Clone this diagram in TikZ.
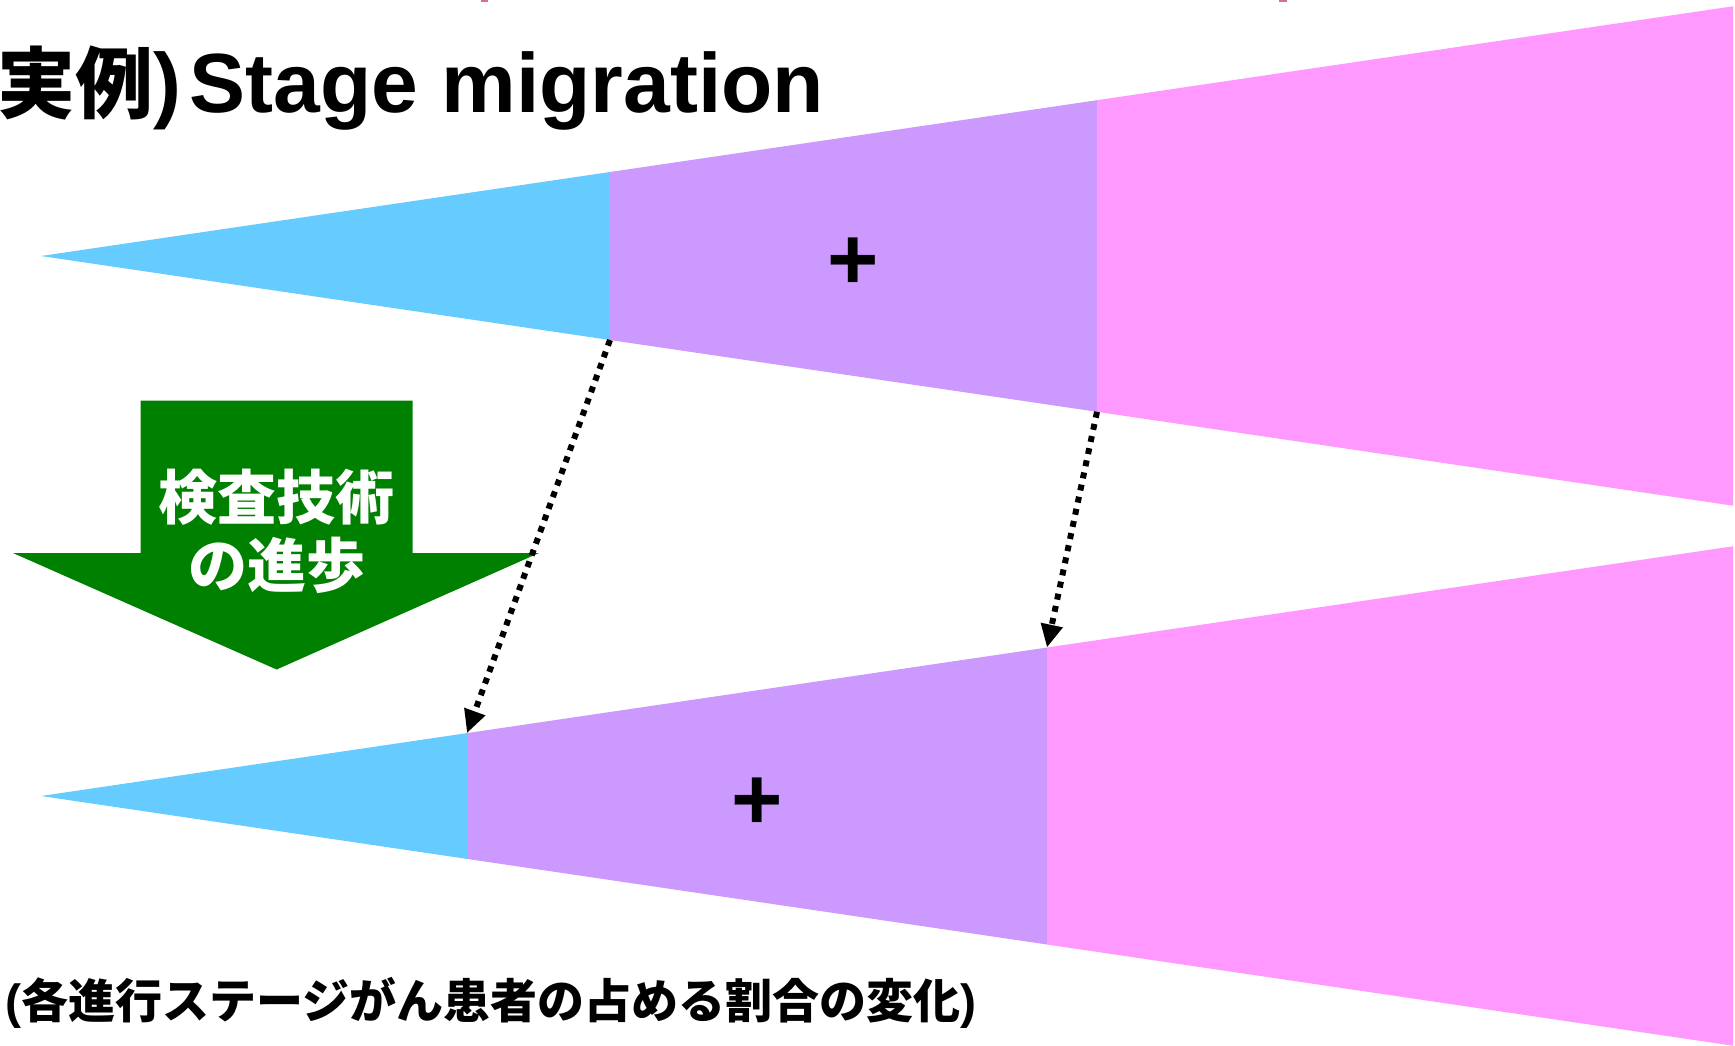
\documentclass[tikz,border=0pt]{standalone}
\usepackage{fontspec}
\setmainfont{Liberation Sans}
\newfontfamily\cjk{Noto Sans CJK JP}
\usetikzlibrary{arrows.meta}
\definecolor{stblue}{HTML}{66CCFF}
\definecolor{stpurple}{HTML}{CC99FF}
\definecolor{stpink}{HTML}{FF99FF}
\definecolor{stgreen}{HTML}{008000}
\definecolor{markpink}{HTML}{D87090}
\tikzset{
  dotarrow/.style={line width=3pt, dash pattern=on 3pt off 3.2pt,
    -{Triangle[length=11.5pt,width=10.5pt]}},
  plussign/.style={inner sep=0pt, font=\bfseries\fontsize{44pt}{44pt}\selectfont},
}
\begin{document}
\begin{tikzpicture}[x=0.5pt,y=-0.5pt]
\useasboundingbox (0,0) rectangle (1735,1045);
\fill[white] (0,0) rectangle (1735,1045);
% tiny marks at top edge
\fill[markpink] (481,0) rectangle (488,2);
\fill[markpink] (1279,0) rectangle (1287,2);
% top wedge
\coordinate (t0) at (41,256);
\coordinate (t1top) at (610,172);
\coordinate (t1bot) at (610,340);
\coordinate (t2top) at (1097,100.2);
\coordinate (t2bot) at (1097,411.8);
\coordinate (t3top) at (1733,6.3);
\coordinate (t3bot) at (1733,505.7);
\fill[stblue] (t0) -- (t1top) -- (t1bot) -- cycle;
\fill[stpurple] (t1top) -- (t2top) -- (t2bot) -- (t1bot) -- cycle;
\fill[stpink] (t2top) -- (t3top) -- (t3bot) -- (t2bot) -- cycle;
% bottom wedge
\coordinate (b0) at (41,796);
\coordinate (b1top) at (467,733.1);
\coordinate (b1bot) at (467,858.9);
\coordinate (b2top) at (1047,647.5);
\coordinate (b2bot) at (1047,944.5);
\coordinate (b3top) at (1733,546.3);
\coordinate (b3bot) at (1733,1045.7);
\fill[stblue] (b0) -- (b1top) -- (b1bot) -- cycle;
\fill[stpurple] (b1top) -- (b2top) -- (b2bot) -- (b1bot) -- cycle;
\fill[stpink] (b2top) -- (b3top) -- (b3bot) -- (b2bot) -- cycle;
% plus signs
\node[plussign] (plustop) at (853.5,263.5) {+};
\node[plussign] (plusbot) at (757,804) {+};
% green arrow
\fill[stgreen] (140.5,400.5) -- (412.7,400.5) -- (412.7,553) -- (539,553)
  -- (276.6,669.5) -- (13,553) -- (140.5,553) -- cycle;
\node[inner sep=0pt, align=center, text=white,
  font=\cjk\bfseries\fontsize{29.5pt}{34pt}\selectfont] (advance) at (276.6,531)
  {検査技術\\の進歩};
% dotted connectors
\draw[dotarrow] (t1bot) -- (b1top);
\draw[dotarrow] (t2bot) -- (b2top);
% title
\node[anchor=base west, inner sep=0pt] (title) at (-3,112)
  {{\cjk\bfseries\fontsize{39pt}{39pt}\selectfont 実例}{\bfseries\fontsize{42pt}{42pt}\selectfont)\hspace{4pt}Stage migration}};
% caption
\node[anchor=west, inner sep=0pt] (caption) at (5,1003)
  {{\bfseries\fontsize{24pt}{24pt}\selectfont(}{\cjk\bfseries\fontsize{23.5pt}{23.5pt}\selectfont 各進行ステージがん患者の占める割合の変化}{\bfseries\fontsize{24pt}{24pt}\selectfont)}};
\end{tikzpicture}
\end{document}
